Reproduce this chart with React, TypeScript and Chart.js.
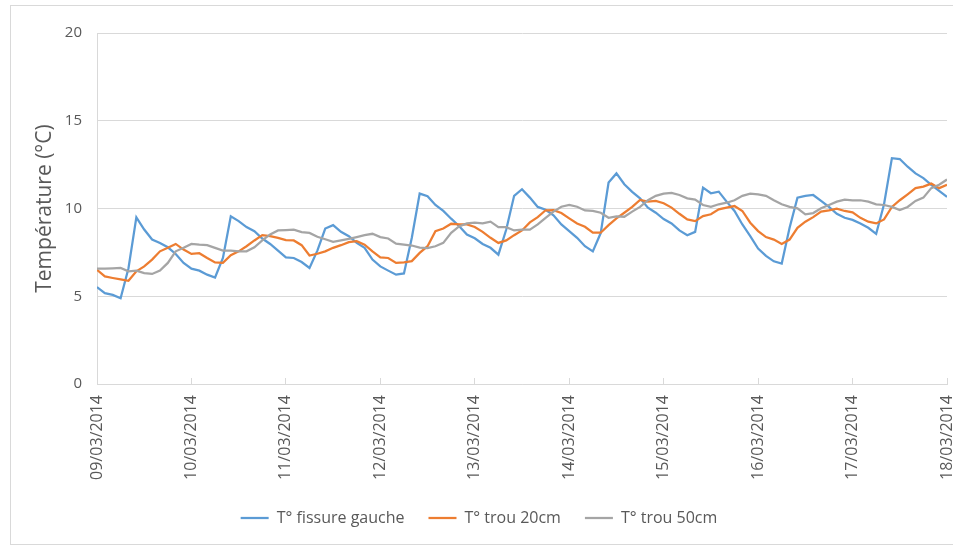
import React, { useEffect, useRef } from "react";
import { Chart, registerables } from "chart.js";

Chart.register(...registerables);

// Day tick labels (one per 24 h)
const dayLabels = [
  "09/03/2014", "10/03/2014", "11/03/2014", "12/03/2014", "13/03/2014",
  "14/03/2014", "15/03/2014", "16/03/2014", "17/03/2014", "18/03/2014",
];

// Sampling: every 2 hours from 09/03/2014 00:00 to 18/03/2014 00:00
const stepHours = 2;

const fissureGauche = [
  5.52, 5.18, 5.08, 4.89, 6.6, 9.5, 8.8, 8.23, 8.04, 7.79, 7.41, 6.9, 6.57, 6.46, 6.23, 6.07, 7.18, 9.55, 9.28, 8.94, 8.71, 8.29, 7.98, 7.6, 7.22,
  7.18, 6.95, 6.61, 7.6, 8.86, 9.05, 8.67, 8.42, 8.04, 7.76, 7.09, 6.7, 6.46, 6.23, 6.3, 8.33, 10.85, 10.7, 10.2, 9.86, 9.42, 9.0, 8.52, 8.3,
  7.98, 7.76, 7.37, 8.8, 10.72, 11.1, 10.62, 10.09, 9.93, 9.61, 9.09, 8.71, 8.33, 7.85, 7.56, 8.6, 11.48, 12.0, 11.38, 10.95, 10.58, 10.05, 9.76, 9.4,
  9.15, 8.75, 8.48, 8.67, 11.19, 10.87, 10.96, 10.39, 9.86, 9.09, 8.42, 7.72, 7.3, 6.99, 6.86, 8.9, 10.62, 10.72, 10.77, 10.43, 10.09, 9.7, 9.47, 9.35,
  9.15, 8.9, 8.56, 10.24, 12.87, 12.82, 12.38, 12.0, 11.73, 11.35, 11.0, 10.66,
];

const trou20 = [
  6.51, 6.13, 6.04, 5.96, 5.88, 6.42, 6.7, 7.09, 7.56, 7.76, 7.98, 7.66, 7.41, 7.45, 7.18, 6.93, 6.9, 7.34, 7.56, 7.85, 8.18, 8.48, 8.42, 8.33, 8.2,
  8.18, 7.91, 7.32, 7.42, 7.56, 7.76, 7.91, 8.08, 8.14, 7.94, 7.56, 7.22, 7.18, 6.9, 6.93, 7.0, 7.47, 7.85, 8.71, 8.86, 9.13, 9.09, 9.09, 8.95,
  8.67, 8.33, 8.04, 8.18, 8.48, 8.75, 9.21, 9.51, 9.9, 9.91, 9.74, 9.44, 9.15, 8.96, 8.62, 8.62, 9.05, 9.44, 9.76, 10.09, 10.49, 10.39, 10.43, 10.3,
  10.05, 9.7, 9.38, 9.28, 9.57, 9.67, 9.95, 10.05, 10.14, 9.86, 9.19, 8.71, 8.37, 8.23, 7.98, 8.23, 8.9, 9.25, 9.51, 9.82, 9.89, 9.99, 9.86, 9.78,
  9.47, 9.25, 9.15, 9.38, 10.09, 10.47, 10.81, 11.16, 11.25, 11.42, 11.16, 11.35,
];

const trou50 = [
  6.57, 6.57, 6.59, 6.61, 6.42, 6.46, 6.32, 6.27, 6.46, 6.9, 7.56, 7.76, 7.98, 7.94, 7.91, 7.76, 7.6, 7.6, 7.56, 7.56, 7.79, 8.18, 8.52, 8.75, 8.77,
  8.79, 8.65, 8.61, 8.39, 8.25, 8.1, 8.18, 8.27, 8.37, 8.48, 8.56, 8.37, 8.29, 8.0, 7.94, 7.89, 7.77, 7.74, 7.85, 8.04, 8.61, 8.98, 9.15, 9.2,
  9.15, 9.25, 8.94, 8.94, 8.75, 8.79, 8.79, 9.09, 9.47, 9.82, 10.1, 10.2, 10.1, 9.89, 9.86, 9.76, 9.47, 9.55, 9.53, 9.82, 10.09, 10.47, 10.72, 10.85,
  10.89, 10.77, 10.58, 10.51, 10.2, 10.09, 10.24, 10.33, 10.47, 10.72, 10.85, 10.81, 10.72, 10.47, 10.24, 10.09, 10.01, 9.67, 9.74, 10.01, 10.2, 10.39, 10.51, 10.47,
  10.47, 10.39, 10.24, 10.2, 10.09, 9.91, 10.09, 10.43, 10.62, 11.16, 11.35, 11.65,
];

const seriesNames = ["T° fissure gauche", "T° trou 20cm", "T° trou 50cm"];
const seriesColors = ["#5B9BD5", "#ED7D31", "#A5A5A5"];

const yTitle = "Température (°C)";
const FONT = "'Open Sans', 'Noto Sans', sans-serif";
const TEXT = "#595959";
const GRID = "#d9d9d9";

function toPoints(values: number[]) {
  return values.map((v, i) => ({ x: i * stepHours, y: v }));
}

export default function App() {
  const canvasRef = useRef<HTMLCanvasElement | null>(null);

  useEffect(() => {
    const canvas = canvasRef.current;
    if (!canvas) return;
    const all = [fissureGauche, trou20, trou50];
    const chart = new Chart(canvas, {
      type: "line",
      data: {
        datasets: all.map((vals, i) => ({
          label: seriesNames[i],
          data: toPoints(vals),
          borderColor: seriesColors[i],
          backgroundColor: seriesColors[i],
          borderWidth: 2.25,
          pointRadius: 0,
          tension: 0,
          order: 3 - i,
        })),
      },
      options: {
        animation: false,
        responsive: true,
        maintainAspectRatio: false,
        layout: { padding: { top: 27, right: 22, bottom: 8, left: 0 } },
        plugins: {
          tooltip: { enabled: false },
          legend: {
            position: "bottom",
            labels: {
              font: { family: FONT, size: 16 },
              color: TEXT,
              usePointStyle: true,
              pointStyle: "line",
              pointStyleWidth: 28,
              padding: 24,
              sort: (a: any, b: any) => a.datasetIndex - b.datasetIndex,
            },
          },
        },
        scales: {
          x: {
            type: "linear",
            min: 0,
            max: (dayLabels.length - 1) * 24,
            grid: {
              drawOnChartArea: false,
              drawTicks: true,
              tickLength: -6,
              color: GRID,
            },
            border: { display: true, color: GRID, width: 1 },
            ticks: {
              stepSize: 24,
              autoSkip: false,
              maxRotation: 90,
              minRotation: 90,
              padding: 17,
              color: TEXT,
              font: { family: FONT, size: 16 },
              callback: (v: any) => dayLabels[Math.round(Number(v) / 24)] ?? "",
            },
            afterFit: (s: any) => {
              s.height = 102;
              s.paddingLeft = 0;
              s.paddingRight = 0;
            },
          },
          y: {
            min: 0,
            max: 20,
            grid: { color: GRID, drawTicks: false },
            border: { display: true, color: GRID },
            ticks: {
              stepSize: 5,
              padding: 15,
              color: TEXT,
              font: { family: FONT, size: 15 },
            },
            title: {
              display: true,
              text: yTitle,
              color: TEXT,
              font: { family: FONT, size: 21, weight: "normal" },
              padding: { top: 21, bottom: 0 },
            },
            afterFit: (s: any) => {
              s.width = 86;
            },
          },
        },
      },
    });
    return () => chart.destroy();
  }, []);

  return (
    <div style={{ position: "fixed", left: 0, top: 0, width: 953, height: 547, overflow: "hidden", background: "#fff" }}>
      <div
        style={{
          position: "absolute",
          left: 10,
          top: 5,
          width: 962,
          height: 540,
          boxSizing: "border-box",
          border: "1px solid #d9d9d9",
          background: "#fff",
        }}
      >
        <div style={{ position: "relative", width: 958, height: 538 }}>
          <canvas ref={canvasRef} />
        </div>
      </div>
    </div>
  );
}
